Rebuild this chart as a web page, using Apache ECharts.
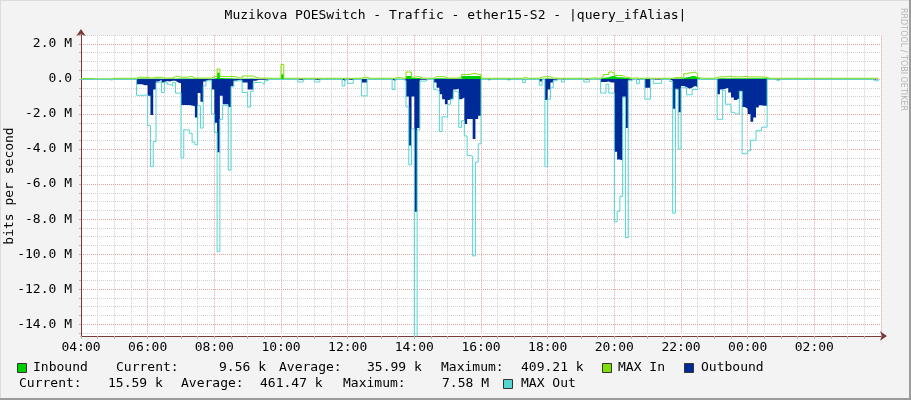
<!DOCTYPE html>
<html><head><meta charset="utf-8">
<script src="https://cdn.jsdelivr.net/npm/echarts@6/dist/echarts.min.js"></script>
<style>html,body{margin:0;padding:0;background:#f3f3f3}#c{width:911px;height:400px}</style>
</head><body><div id="c"></div>
<script>
const TITLE = 'Muzikova POESwitch - Traffic - ether15-S2 - |query_ifAlias|';
const Y_TITLE = 'bits per second';
const WATERMARK = 'RRDTOOL / TOBI OETIKER';
const TIME_LABELS = ['04:00','06:00','08:00','10:00','12:00','14:00','16:00','18:00','20:00','22:00','00:00','02:00'];
const STEP_HOURS = 5 / 60;   // one sample every 5 minutes, starting 04:00
const SERIES_NAMES = ['Inbound', 'MAX In', 'Outbound', 'MAX Out'];
const IN_STATS = ['9.56 k', '35.99 k', '409.21 k'];
const OUT_STATS = ['15.59 k', '461.47 k', '7.58 M'];

// values in Mbit/s, 12 samples per hour
const inbound = [
0.01,0.01,0.01,0.01,0.01,0.01,0.01,0.01,0.01,0.01,0.01,0.01,
0.02,0.02,0.02,0.02,0.02,0.02,0.02,0.02,0.03,0.03,0.03,0.03,
0.02,0.02,0.03,0.03,0.02,0.02,0.02,0.02,0.03,0.03,0.03,0.03,
0.03,0.03,0.03,0.03,0.03,0.03,0.02,0.02,0.02,0.02,0.02,0.03,
0.05,0.36,0.05,0.04,0.04,0.04,0.03,0.03,0.02,0.02,0.03,0.03,
0.03,0.03,0.02,0.02,0.02,0.02,0.02,0.01,0.01,0.01,0.01,0.01,
0.27,0.01,0.01,0.01,0.01,0.01,0.01,0.01,0.01,0.01,0.01,0.01,
0.01,0.01,0.01,0.01,0.01,0.01,0.01,0.01,0.01,0.01,0.01,0.01,
0.01,0.01,0.01,0.01,0.01,0.02,0.02,0.01,0.01,0.01,0.01,0.01,
0.01,0.01,0.01,0.01,0.01,0.02,0.02,0.01,0.01,0.17,0.17,0.05,
0.05,0.05,0.02,0.02,0.01,0.01,0.01,0.04,0.04,0.04,0.04,0.03,
0.03,0.03,0.03,0.03,0.03,0.17,0.17,0.17,0.17,0.17,0.17,0.17,
0.01,0.01,0.01,0.01,0.01,0.01,0.01,0.01,0.01,0.01,0.01,0.01,
0.01,0.01,0.01,0.01,0.01,0.01,0.01,0.01,0.01,0.02,0.02,0.04,
0.03,0.02,0.02,0.01,0.01,0.01,0.01,0.01,0.01,0.01,0.01,0.01,
0.01,0.01,0.01,0.01,0.01,0.01,0.01,0.05,0.08,0.10,0.15,0.17,
0.10,0.10,0.10,0.05,0.05,0.02,0.01,0.02,0.01,0.01,0.01,0.02,
0.02,0.01,0.01,0.01,0.01,0.01,0.01,0.01,0.01,0.03,0.03,0.03,
0.04,0.10,0.12,0.17,0.17,0.10,0.02,0.01,0.01,0.01,0.01,0.01,
0.02,0.04,0.04,0.04,0.04,0.04,0.04,0.04,0.04,0.04,0.04,0.04,
0.04,0.04,0.04,0.04,0.04,0.04,0.04,0.01,0.01,0.01,0.01,0.01,
0.01,0.01,0.01,0.01,0.01,0.01,0.01,0.01,0.01,0.01,0.01,0.01,
0.01,0.01,0.01,0.01,0.01,0.01,0.01,0.01,0.01,0.01,0.01,0.01,
0.01,0.01,0.01,0.01,0.01,0.01,0.01,0.01,0.01,0.01,0.01,0.01
];
const maxIn = [
0.03,0.03,0.03,0.03,0.00,0.00,0.00,0.00,0.00,0.00,0.00,0.03,
0.04,0.04,0.04,0.04,0.04,0.04,0.04,0.04,0.10,0.10,0.10,0.10,
0.06,0.05,0.10,0.10,0.10,0.05,0.05,0.05,0.05,0.15,0.15,0.10,
0.10,0.10,0.12,0.15,0.05,0.05,0.05,0.05,0.05,0.05,0.05,0.14,
0.14,0.57,0.14,0.14,0.14,0.14,0.14,0.12,0.05,0.05,0.17,0.17,
0.17,0.17,0.10,0.05,0.05,0.05,0.05,0.04,0.04,0.04,0.04,0.04,
0.83,0.04,0.04,0.04,0.04,0.04,0.04,0.04,0.04,0.04,0.04,0.04,
0.04,0.04,0.04,0.04,0.04,0.04,0.04,0.04,0.04,0.04,0.04,0.04,
0.04,0.04,0.04,0.04,0.04,0.10,0.10,0.04,0.04,0.04,0.04,0.04,
0.04,0.04,0.04,0.04,0.04,0.08,0.08,0.04,0.04,0.40,0.40,0.10,
0.13,0.13,0.05,0.05,0.04,0.04,0.04,0.13,0.13,0.13,0.13,0.05,
0.05,0.05,0.05,0.05,0.08,0.26,0.26,0.26,0.30,0.32,0.26,0.26,
0.04,0.04,0.04,0.04,0.04,0.04,0.04,0.04,0.04,0.04,0.04,0.04,
0.04,0.04,0.04,0.10,0.04,0.04,0.04,0.04,0.04,0.10,0.13,0.13,
0.13,0.05,0.05,0.04,0.04,0.04,0.04,0.04,0.04,0.04,0.04,0.04,
0.04,0.04,0.04,0.04,0.07,0.04,0.04,0.13,0.25,0.25,0.40,0.35,
0.20,0.20,0.20,0.10,0.10,0.05,0.04,0.07,0.04,0.04,0.04,0.05,
0.05,0.04,0.04,0.04,0.04,0.04,0.04,0.04,0.04,0.08,0.08,0.08,
0.10,0.30,0.35,0.35,0.40,0.30,0.07,0.04,0.04,0.04,0.04,0.04,
0.08,0.12,0.12,0.12,0.15,0.15,0.12,0.12,0.12,0.12,0.15,0.12,
0.12,0.12,0.12,0.12,0.12,0.10,0.10,0.04,0.04,0.04,0.04,0.04,
0.04,0.04,0.04,0.04,0.04,0.04,0.04,0.04,0.04,0.04,0.04,0.04,
0.04,0.04,0.04,0.04,0.04,0.04,0.04,0.04,0.04,0.04,0.04,0.04,
0.04,0.04,0.04,0.04,0.04,0.04,0.04,0.04,0.04,0.04,0.04,0.04
];
const outbound = [
-0.01,-0.01,-0.01,-0.01,-0.01,-0.01,-0.01,-0.01,-0.01,-0.01,-0.01,-0.01,
-0.01,-0.01,-0.01,-0.01,-0.01,-0.01,-0.01,-0.01,-0.30,-0.30,-0.35,-0.35,
-0.96,-2.05,-0.60,-0.15,-0.05,-0.20,-0.12,-0.15,-0.10,-0.10,-0.20,-0.25,
-1.49,-1.49,-1.49,-1.52,-1.55,-2.20,-0.80,-1.30,-0.15,-0.05,-0.05,-0.60,
-2.50,-4.18,-0.96,-1.44,-1.44,-1.60,-0.40,-0.10,-0.05,-0.05,-0.20,-0.20,
-0.60,-0.60,-0.10,-0.05,-0.05,-0.05,-0.03,-0.01,-0.01,-0.01,-0.01,-0.01,
-0.01,-0.01,-0.01,-0.01,-0.01,-0.01,-0.05,-0.05,-0.01,-0.01,-0.01,-0.01,
-0.05,-0.05,-0.01,-0.01,-0.01,-0.01,-0.01,-0.01,-0.01,-0.01,-0.10,-0.01,
-0.05,-0.05,-0.01,-0.01,-0.01,-0.20,-0.20,-0.01,-0.01,-0.01,-0.01,-0.01,
-0.01,-0.01,-0.01,-0.01,-0.10,-0.01,-0.01,-0.01,-0.05,-1.00,-3.80,-1.00,
-7.58,-2.80,-0.05,-0.05,-0.01,-0.01,-0.01,-0.20,-0.50,-0.87,-1.15,-1.44,
-1.20,-1.10,-0.60,-0.55,-1.15,-1.05,-2.57,-2.29,-2.29,-3.42,-2.29,-2.10,
-0.01,-0.01,-0.05,-0.01,-0.01,-0.01,-0.01,-0.01,-0.01,-0.05,-0.01,-0.01,
-0.01,-0.01,-0.01,-0.03,-0.01,-0.01,-0.01,-0.01,-0.01,-0.15,-0.02,-1.20,
-0.60,-0.20,-0.05,-0.01,-0.01,-0.03,-0.01,-0.01,-0.01,-0.01,-0.01,-0.01,
-0.01,-0.03,-0.03,-0.01,-0.01,-0.01,-0.01,-0.17,-0.17,-0.15,-0.20,-0.20,
-4.15,-4.60,-4.65,-1.00,-2.80,-0.05,-0.01,-0.01,-0.05,-0.01,-0.01,-0.50,
-0.50,-0.01,-0.03,-0.03,-0.03,-0.01,-0.01,-0.01,-0.10,-1.70,-0.55,-1.90,
-0.40,-0.45,-0.55,-0.50,-0.40,-0.45,-0.01,-0.01,-0.01,-0.01,-0.01,-0.01,
-0.01,-0.87,-0.60,-0.55,-0.50,-0.77,-1.06,-1.20,-1.10,-0.68,-1.60,-1.70,
-2.00,-2.44,-2.20,-1.62,-1.50,-1.53,-1.53,-0.01,-0.01,-0.01,-0.03,-0.01,
-0.01,-0.01,-0.01,-0.01,-0.01,-0.01,-0.01,-0.01,-0.01,-0.01,-0.01,-0.01,
-0.01,-0.01,-0.01,-0.01,-0.01,-0.01,-0.01,-0.01,-0.01,-0.01,-0.01,-0.01,
-0.01,-0.01,-0.01,-0.01,-0.01,-0.01,-0.01,-0.01,-0.01,-0.03,-0.03,-0.01
];
const maxOut = [
-0.02,-0.02,-0.02,-0.02,-0.02,-0.02,-0.02,-0.02,-0.02,-0.02,-0.06,-0.02,
-0.02,-0.02,-0.02,-0.02,-0.02,-0.02,-0.02,-0.02,-0.93,-0.93,-0.93,-0.90,
-2.66,-5.00,-3.57,-0.20,-0.15,-0.77,-0.17,-0.30,-0.40,-0.20,-0.80,-0.80,
-4.50,-2.90,-2.90,-3.10,-3.60,-3.75,-1.53,-2.80,-0.40,-0.10,-0.10,-2.00,
-3.05,-9.86,-2.30,-1.50,-1.50,-5.20,-0.45,-0.12,-0.10,-0.10,-0.77,-0.77,
-1.60,-0.70,-0.20,-0.20,-0.20,-0.30,-0.10,-0.02,-0.02,-0.02,-0.02,-0.02,
-0.02,-0.02,-0.02,-0.02,-0.02,-0.02,-0.17,-0.17,-0.02,-0.02,-0.02,-0.02,
-0.17,-0.17,-0.02,-0.02,-0.02,-0.02,-0.02,-0.02,-0.02,-0.02,-0.40,-0.02,
-0.25,-0.25,-0.02,-0.02,-0.02,-0.96,-0.96,-0.02,-0.02,-0.02,-0.02,-0.02,
-0.02,-0.02,-0.02,-0.02,-0.60,-0.02,-0.02,-0.02,-0.10,-1.60,-4.90,-2.85,
-16.0,-2.90,-0.12,-0.12,-0.02,-0.02,-0.02,-0.60,-0.70,-3.00,-2.15,-2.20,
-1.44,-1.15,-0.70,-0.77,-2.76,-2.38,-3.25,-4.37,-4.40,-10.1,-4.74,-3.70,
-0.02,-0.02,-0.06,-0.02,-0.02,-0.02,-0.02,-0.02,-0.02,-0.06,-0.02,-0.02,
-0.02,-0.02,-0.02,-0.20,-0.02,-0.02,-0.02,-0.02,-0.02,-0.36,-0.03,-5.00,
-1.15,-0.50,-0.10,-0.02,-0.02,-0.17,-0.02,-0.02,-0.02,-0.02,-0.02,-0.02,
-0.02,-0.17,-0.17,-0.02,-0.02,-0.02,-0.02,-0.80,-0.80,-0.30,-0.80,-0.80,
-8.15,-7.55,-6.70,-1.05,-9.05,-0.10,-0.02,-0.02,-0.27,-0.02,-0.02,-1.15,
-1.15,-0.02,-0.25,-0.25,-0.25,-0.02,-0.02,-0.02,-0.15,-7.66,-0.60,-4.00,
-0.50,-0.50,-0.90,-0.90,-0.60,-0.60,-0.02,-0.02,-0.02,-0.02,-0.02,-0.02,
-0.02,-2.30,-2.30,-0.65,-1.44,-1.44,-1.90,-2.00,-2.00,-0.70,-4.27,-4.27,
-4.10,-3.50,-3.50,-2.95,-2.95,-2.75,-2.75,-0.02,-0.02,-0.02,-0.10,-0.02,
-0.02,-0.02,-0.02,-0.02,-0.02,-0.02,-0.02,-0.02,-0.02,-0.02,-0.02,-0.02,
-0.02,-0.02,-0.02,-0.02,-0.02,-0.02,-0.02,-0.02,-0.02,-0.02,-0.02,-0.02,
-0.02,-0.02,-0.02,-0.02,-0.02,-0.02,-0.02,-0.02,-0.02,-0.10,-0.10,-0.02
];

const FONT = '"DejaVu Sans Mono", monospace';
const C_IN = '#00cf00', C_INMAX = '#7ee000', C_OUT = '#002a97', C_OUTMAX = '#55d5d2';
const RED = '#e8a2a2', GRAY = '#d2d2d2', AXIS_C = '#7a3a3a';
const toPts = arr => arr.map((v, i) => [i * STEP_HOURS, v]);

const chart = echarts.init(document.getElementById('c'));

function txt(text, x, y, opts) {
  return Object.assign({
    type: 'text', x: x, y: y, silent: true,
    style: { text: text, fill: '#000', font: '13px ' + FONT,
             align: 'left', verticalAlign: 'middle', textAlign: 'left', textVerticalAlign: 'middle' }
  }, opts || {});
}
function box(x, y, color) {
  return { type: 'rect', silent: true, shape: { x: x, y: y, width: 9, height: 9 },
           style: { fill: color, stroke: '#333', lineWidth: 1 } };
}

const legend = [
  box(17.5, 363.5, C_IN), txt(SERIES_NAMES[0], 33, 368),
  txt('Current:', 116, 368), txt(IN_STATS[0], 219, 368),
  txt('Average:', 279, 368), txt(IN_STATS[1], 367, 368),
  txt('Maximum:', 441, 368), txt(IN_STATS[2], 521, 368),
  box(602.5, 363.5, C_INMAX), txt(SERIES_NAMES[1], 618, 368),
  box(684.5, 363.5, C_OUT), txt(SERIES_NAMES[2], 701, 368),
  txt('Current:', 19, 384), txt(OUT_STATS[0], 108, 384),
  txt('Average:', 181, 384), txt(OUT_STATS[1], 260, 384),
  txt('Maximum:', 343, 384), txt(OUT_STATS[2], 442, 384),
  box(503.5, 379.5, C_OUTMAX), txt(SERIES_NAMES[3], 521, 384)
];

const option = {
  animation: false,
  backgroundColor: '#f3f3f3',
  title: { text: TITLE, left: 'center', top: 4,
           textStyle: { fontFamily: FONT, fontSize: 13, fontWeight: 'normal', color: '#000' } },
  grid: [
    { left: 81, top: 35.2, width: 800, height: 297.8, show: false },
    { left: 81, top: 35, width: 800, height: 301, show: false }
  ],
  xAxis: [
    { gridIndex: 0, type: 'value', min: 0, max: 24, interval: 0.5,
      axisLine: { show: false }, axisTick: { show: false }, axisLabel: { show: false },
      splitLine: { show: true, lineStyle: { color: [RED, GRAY, GRAY, GRAY], type: [1, 1], width: 1 } }
    },
    { gridIndex: 1, type: 'value', min: 0, max: 24, interval: 0.5,
      axisLine: { show: true, onZero: false, lineStyle: { color: AXIS_C, width: 1 },
                  symbol: ['none', 'arrow'], symbolSize: [7, 7], symbolOffset: [0, 6] },
      axisTick: { show: true, length: 3, lineStyle: { color: '#b5b5b5' } },
      axisLabel: { fontFamily: FONT, fontSize: 13, color: '#000', margin: 5, showMaxLabel: false,
                   formatter: v => (Math.abs(v % 2) < 1e-9 && v < 24) ? TIME_LABELS[Math.round(v / 2)] : '' },
      splitLine: { show: false }
    }
  ],
  yAxis: [
    { gridIndex: 0, type: 'value', min: -14.5, max: 2.5, interval: 0.5,
      axisLine: { show: false },
      axisTick: { show: true, length: 2, lineStyle: { color: '#b5b5b5' } },
      axisLabel: { fontFamily: FONT, fontSize: 13, color: '#000', margin: 9,
                   formatter: v => Math.abs(v % 2) < 1e-9 ? (Math.abs(v) < 1e-9 ? '0.0' : v.toFixed(1) + ' M') : '' },
      splitLine: { show: true, lineStyle: { color: [GRAY, RED, GRAY, GRAY], type: [1, 1], width: 1 } }
    },
    { gridIndex: 1, type: 'value', min: -14.669, max: 2.511,
      axisLine: { show: true, onZero: false, lineStyle: { color: AXIS_C, width: 1 },
                  symbol: ['none', 'arrow'], symbolSize: [7, 7], symbolOffset: [0, 6] },
      axisTick: { show: false }, axisLabel: { show: false }, splitLine: { show: false }
    }
  ],
  series: [
    { name: SERIES_NAMES[0], type: 'line', xAxisIndex: 1, yAxisIndex: 1, step: 'end', data: toPts(inbound),
      symbol: 'none', lineStyle: { width: 0, opacity: 0 }, areaStyle: { color: C_IN, opacity: 1 }, z: 2 },
    { name: SERIES_NAMES[1], type: 'line', xAxisIndex: 1, yAxisIndex: 1, step: 'end', data: toPts(maxIn),
      symbol: 'none', lineStyle: { width: 1, color: C_INMAX }, z: 3 },
    { name: SERIES_NAMES[2], type: 'line', xAxisIndex: 1, yAxisIndex: 1, step: 'end', data: toPts(outbound),
      symbol: 'none', lineStyle: { width: 0, opacity: 0 }, areaStyle: { color: C_OUT, opacity: 1 }, z: 2 },
    { name: SERIES_NAMES[3], type: 'line', xAxisIndex: 1, yAxisIndex: 1, step: 'end', data: toPts(maxOut),
      symbol: 'none', lineStyle: { width: 1, color: C_OUTMAX }, z: 4 }
  ],
  graphic: [
    { type: 'rect', silent: true, z: -100, shape: { x: 81, y: 35, width: 800, height: 301 }, style: { fill: '#ffffff' } },
    { type: 'line', silent: true, shape: { x1: 0, y1: 0.5, x2: 911, y2: 0.5 }, style: { stroke: '#dcdcdc', lineWidth: 1 } },
    { type: 'line', silent: true, shape: { x1: 0.5, y1: 0, x2: 0.5, y2: 400 }, style: { stroke: '#dcdcdc', lineWidth: 1 } },
    { type: 'line', silent: true, shape: { x1: 0, y1: 399, x2: 911, y2: 399 }, style: { stroke: '#9b9b9b', lineWidth: 2 } },
    { type: 'line', silent: true, shape: { x1: 910, y1: 0, x2: 910, y2: 400 }, style: { stroke: '#9b9b9b', lineWidth: 2 } },
    txt(Y_TITLE, 10, 186, { rotation: Math.PI / 2,
      style: { text: Y_TITLE, fill: '#000', font: '13px ' + FONT, align: 'center', verticalAlign: 'middle',
               textAlign: 'center', textVerticalAlign: 'middle' } }),
    txt(WATERMARK, 903, 8, { rotation: -Math.PI / 2,
      style: { text: WATERMARK, fill: '#b4b4b4', font: '8px "DejaVu Sans", sans-serif', align: 'left',
               verticalAlign: 'middle', textAlign: 'left', textVerticalAlign: 'middle' } })
  ].concat(legend)
};
chart.setOption(option);
</script>
</body></html>
